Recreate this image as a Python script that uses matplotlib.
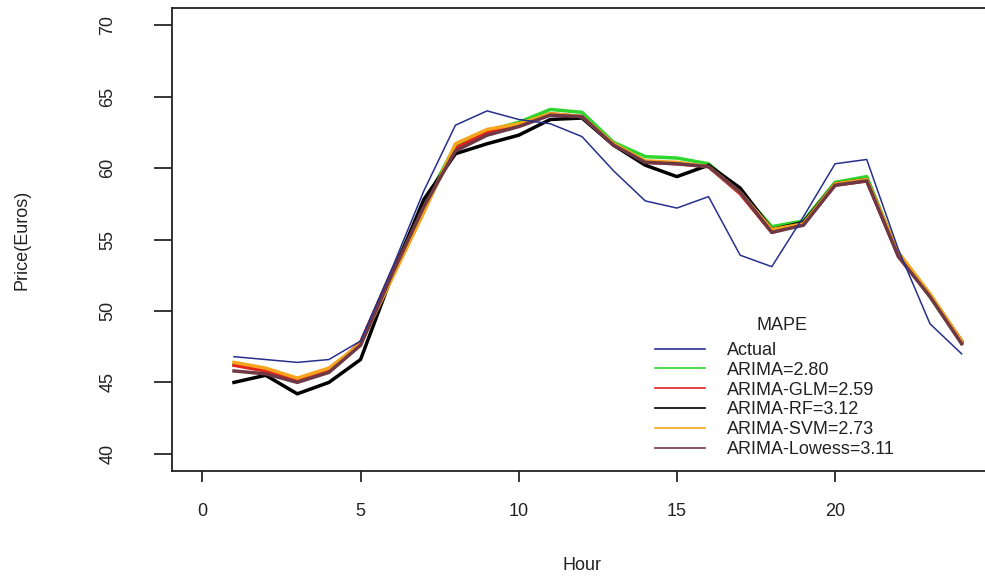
#Librerias.
import matplotlib
matplotlib.use("Agg")
import matplotlib.pyplot as plt
from matplotlib.lines import Line2D

plt.rcParams['font.family'] = ['Liberation Sans', 'DejaVu Sans']

#Datos.
horas = list(range(1, 25))
actual = [46.8, 46.6, 46.4, 46.6, 47.9, 53.0, 58.4, 63.0, 64.0, 63.4, 63.1, 62.2,
          59.8, 57.7, 57.2, 58.0, 53.9, 53.1, 56.6, 60.3, 60.6, 54.3, 49.1, 47.0]
arima = [46.3, 45.9, 45.2, 45.9, 47.7, 52.8, 57.4, 61.6, 62.6, 63.2, 64.1, 63.9,
         61.8, 60.8, 60.7, 60.3, 58.4, 55.9, 56.3, 59.0, 59.4, 54.0, 51.0, 47.8]
arima_glm = [46.2, 45.8, 45.1, 45.8, 47.8, 52.8, 57.2, 61.4, 62.5, 63.0, 63.8, 63.6,
             61.6, 60.4, 60.3, 60.1, 58.2, 55.5, 56.1, 58.8, 59.1, 53.9, 51.1, 47.8]
arima_rf = [45.0, 45.5, 44.2, 45.0, 46.6, 52.5, 57.8, 61.0, 61.7, 62.3, 63.4, 63.5,
            61.6, 60.2, 59.4, 60.2, 58.6, 55.7, 56.2, 58.9, 59.2, 54.0, 51.1, 47.9]
arima_svm = [46.4, 46.0, 45.3, 46.0, 47.7, 52.3, 56.9, 61.7, 62.7, 63.1, 63.8, 63.6,
             61.7, 60.5, 60.4, 60.1, 58.3, 55.7, 56.1, 58.9, 59.2, 54.1, 51.2, 47.9]
arima_lowess = [45.8, 45.6, 45.0, 45.7, 47.6, 52.6, 57.3, 61.2, 62.3, 62.9, 63.7, 63.6,
                61.6, 60.4, 60.3, 60.1, 58.3, 55.5, 56.0, 58.8, 59.1, 53.8, 51.0, 47.7]

etiquetas = ['Actual', 'ARIMA=2.80', 'ARIMA-GLM=2.59', 'ARIMA-RF=3.12',
             'ARIMA-SVM=2.73', 'ARIMA-Lowess=3.11']
colores = ['#27308C', '#2ED62E', '#E3231C', '#000000', '#F7A51C', '#6E3844']

#Figura de 985x580 px.
fig = plt.figure(figsize=(9.85, 5.8), dpi=100)
ax = fig.add_axes([172/985, 1-471/580, 820/985, 463/580])

#Modelos primero (lineas gruesas), real encima (linea fina).
modelos = [arima, arima_glm, arima_rf, arima_svm, arima_lowess]
for serie, color in zip(modelos, colores[1:]):
    ax.plot(horas, serie, color=color, lw=2.5, solid_joinstyle='round')
ax.plot(horas, actual, color=colores[0], lw=1.1)

ax.set_xlim(-0.96, 24.96)
ax.set_ylim(38.8, 71.2)
ax.set_xticks([0, 5, 10, 15, 20])
ax.set_yticks([40, 45, 50, 55, 60, 65, 70])
ax.tick_params(axis='x', direction='out', length=8, width=1.1, pad=15,
               labelsize=13, labelcolor='#222222')
ax.tick_params(axis='y', direction='out', length=13, width=1.1, pad=33,
               labelsize=13, labelcolor='#222222')
for lab in ax.get_yticklabels():
    lab.set_rotation(90)
    lab.set_va('center')
    lab.set_ha('center')
for s in ax.spines.values():
    s.set_linewidth(1.3)
    s.set_color('#222222')

#Etiquetas de los ejes.
ax.set_xlabel('Hour', fontsize=13, color='#222222')
ax.set_ylabel('Price(Euros)', fontsize=13, color='#222222')
ax.xaxis.set_label_coords(0.5, (471-565)/463)
ax.xaxis.label.set_va('center')
ax.yaxis.set_label_coords((22-172)/820, 0.5)
ax.yaxis.label.set_va('center')

#Leyenda sin caja, el titulo va aparte.
fig.text(782/985, 1-325/580, 'MAPE', fontsize=13, color='#222222',
         ha='center', va='center')
manejadores = [Line2D([0], [0], color=c, lw=1.2) for c in colores]
leg = ax.legend(manejadores, etiquetas, loc='upper left',
                bbox_to_anchor=(655/985, 1-342/580), bbox_transform=fig.transFigure,
                frameon=False, fontsize=13, borderpad=0,
                borderaxespad=0, handlelength=2.75, handletextpad=1.25,
                labelspacing=0.155)
for t in leg.get_texts():
    t.set_color('#222222')

fig.savefig('out.png', dpi=100)
